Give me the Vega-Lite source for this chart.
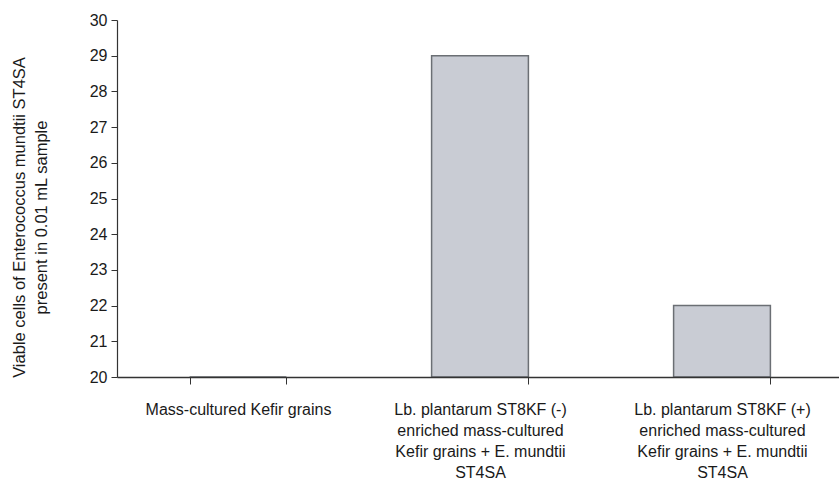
{
  "$schema": "https://vega.github.io/schema/vega-lite/v6.json",
  "autosize": "none",
  "width": 726,
  "height": 357,
  "padding": {"left": 117, "top": 20, "right": 0, "bottom": 103},
  "background": "white",
  "config": {
    "view": {"stroke": null},
    "font": "Liberation Sans",
    "axis": {"grid": false, "domainColor": "#333333", "tickColor": "#333333", "labelColor": "#1a1a1a", "titleColor": "#1a1a1a", "labelFont": "Liberation Sans", "titleFont": "Liberation Sans"}
  },
  "data": {
    "values": [
      {"group": "Mass-cultured Kefir grains", "cells": 20},
      {"group": "Lb. plantarum ST8KF (-)|enriched mass-cultured|Kefir grains + E. mundtii|ST4SA", "cells": 29},
      {"group": "Lb. plantarum ST8KF (+)|enriched mass-cultured|Kefir grains + E. mundtii|ST4SA", "cells": 22}
    ]
  },
  "mark": {"type": "bar", "fill": "#c9ccd4", "stroke": "#6b6f74", "strokeWidth": 1.5},
  "encoding": {
    "x": {
      "field": "group",
      "type": "nominal",
      "sort": null,
      "scale": {"paddingInner": 0.6, "paddingOuter": 0.3},
      "axis": {
        "title": null,
        "zindex": 1,
        "labelAngle": 0,
        "labelExpr": "split(datum.label, '|')",
        "labelFontSize": 16,
        "labelLineHeight": 21,
        "labelPadding": 17,
        "tickBand": "extent",
        "tickSize": 7,
        "labelLimit": 0,
        "labelOverlap": false,
        "domainWidth": 1.5
      }
    },
    "y": {
      "field": "cells",
      "type": "quantitative",
      "scale": {"domain": [20, 30], "nice": false, "zero": false},
      "axis": {
        "title": ["Viable cells of Enterococcus mundtii ST4SA", "present in 0.01 mL sample"],
        "zindex": 1,
        "titleFontSize": 16.5,
        "titleFontWeight": "normal",
        "titleLineHeight": 22,
        "titlePadding": 40,
        "titleY": 197,
        "values": [20, 21, 22, 23, 24, 25, 26, 27, 28, 29, 30],
        "labelOverlap": false,
        "labelFontSize": 16,
        "labelPadding": 4,
        "tickSize": 6,
        "domainWidth": 1.2
      }
    },
    "y2": {"datum": 20}
  }
}
